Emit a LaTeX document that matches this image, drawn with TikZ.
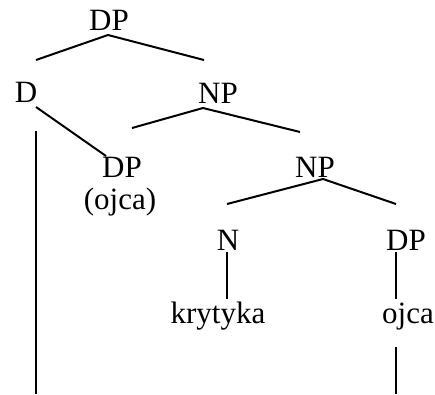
\documentclass[tikz,border=0pt]{standalone}
\usepackage{fontspec}
\setmainfont{Liberation Serif}
\begin{document}
\begin{tikzpicture}[x=1pt,y=-1pt,
  lbl/.style={inner sep=0pt,anchor=base,font=\fontsize{31pt}{37pt}\selectfont},
  branch/.style={line width=2pt,line cap=butt}]
\useasboundingbox (0,0) rectangle (435,394);
% labels
\node[lbl] (dp0) at (109,30) {DP};
\node[lbl] (d) at (26,102) {D};
\node[lbl] (np1) at (218,103) {NP};
\node[lbl] (dp1) at (122,177) {DP};
\node[lbl] (ojca1) at (120,209) {(ojca)};
\node[lbl] (np2) at (315,177) {NP};
\node[lbl] (n) at (228,250) {N};
\node[lbl] (dp2) at (406,250) {DP};
\node[lbl] (kr) at (218,323) {krytyka};
\node[lbl] (ojca2) at (408,323) {ojca};
% connector ends
\coordinate (a0) at (108,35);
\coordinate (a0l) at (36,60);
\coordinate (a0r) at (204,60);
\coordinate (dbot) at (36,107);
\coordinate (dp1top) at (106,156);
\coordinate (tracetop) at (36,131);
\coordinate (tracebot) at (36,394);
\coordinate (a1) at (203,108);
\coordinate (a1l) at (132,128);
\coordinate (a1r) at (300,132);
\coordinate (a2) at (323,179);
\coordinate (a2l) at (227,204);
\coordinate (a2r) at (396,204);
\coordinate (ntop) at (227,252);
\coordinate (nbot) at (227,299);
\coordinate (dp2top) at (396,252);
\coordinate (dp2bot) at (396,299);
\coordinate (ojtop) at (396,347);
\coordinate (ojbot) at (396,394);
% connectors
\draw[branch] (a0l) -- (a0) -- (a0r);
\draw[branch] (dbot) -- (dp1top);
\draw[branch] (tracetop) -- (tracebot);
\draw[branch] (a1l) -- (a1) -- (a1r);
\draw[branch] (a2l) -- (a2) -- (a2r);
\draw[branch] (ntop) -- (nbot);
\draw[branch] (dp2top) -- (dp2bot);
\draw[branch] (ojtop) -- (ojbot);
\end{tikzpicture}
\end{document}
